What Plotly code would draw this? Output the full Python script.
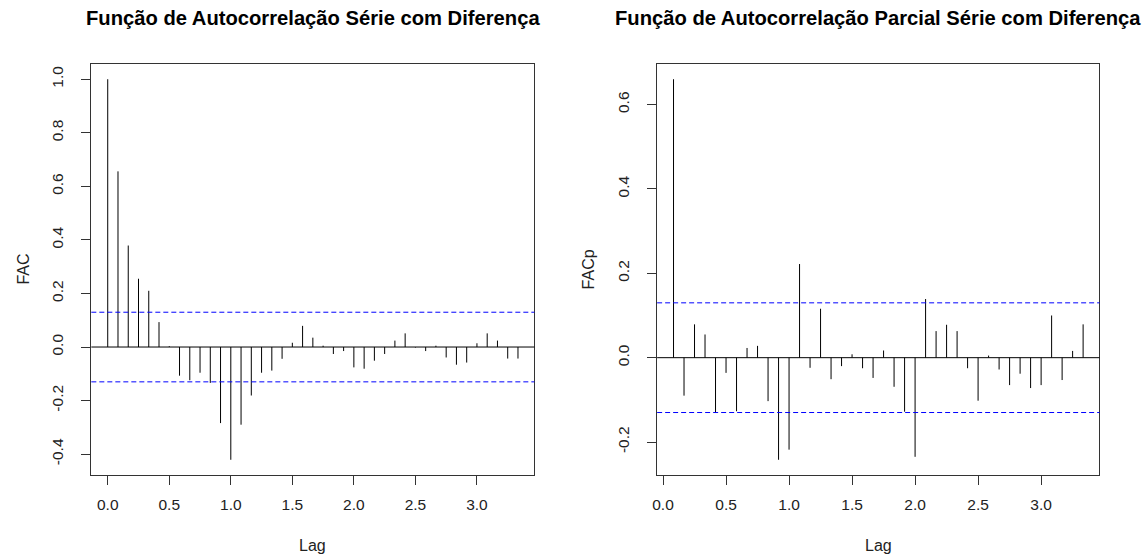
import plotly.graph_objects as go

# ---- data ----
acf_lags = [k / 12 for k in range(0, 41)]
acf_vals = [1.0, 0.656, 0.379, 0.255, 0.21, 0.093, 0.003, -0.107, -0.124, -0.096,
            -0.134, -0.284, -0.421, -0.29, -0.181, -0.096, -0.088, -0.044, 0.016, 0.079,
            0.035, 0.005, -0.026, -0.015, -0.076, -0.081, -0.051, -0.026, 0.024, 0.051,
            -0.002, -0.015, 0.005, -0.039, -0.066, -0.058, 0.014, 0.051, 0.024, -0.043,
            -0.043]
pacf_lags = [k / 12 for k in range(1, 41)]
pacf_vals = [0.660, -0.090, 0.079, 0.055, -0.131, -0.036, -0.127, 0.023, 0.028, -0.103,
             -0.242, -0.218, 0.222, -0.024, 0.116, -0.051, -0.020, 0.008, -0.025, -0.048,
             0.017, -0.069, -0.128, -0.235, 0.139, 0.063, 0.078, 0.063, -0.025, -0.102,
             0.005, -0.028, -0.065, -0.038, -0.072, -0.065, 0.100, -0.053, 0.016, 0.079]
clim = 0.13
x_ticks = [0.0, 0.5, 1.0, 1.5, 2.0, 2.5, 3.0]
acf_yticks = [-0.4, -0.2, 0.0, 0.2, 0.4, 0.6, 0.8, 1.0]
pacf_yticks = [-0.2, 0.0, 0.2, 0.4, 0.6]
titles = ["Função de Autocorrelação Série com Diferença",
          "Função de Autocorrelação Parcial Série com Diferença"]
ylabels = ["FAC", "FACp"]
xlabel = "Lag"

FONT = "Liberation Sans, Arial, sans-serif"
AXC = "#333333"


def padded(lo, hi, f=0.04):
    d = (hi - lo) * f
    return [lo - d, hi + d]


def spikes(xs, ys):
    px, py = [], []
    for x, y in zip(xs, ys):
        px += [x, x, None]
        py += [0, y, None]
    return px, py


fig = go.Figure()
for i, (lags, vals) in enumerate([(acf_lags, acf_vals), (pacf_lags, pacf_vals)]):
    px, py = spikes(lags, vals)
    sfx = "" if i == 0 else "2"
    fig.add_trace(go.Scatter(x=px, y=py, mode="lines", line=dict(color="black", width=1),
                             xaxis="x" + sfx, yaxis="y" + sfx, showlegend=False,
                             hoverinfo="skip"))

xdom = [[86.7 / 1145, 531.7 / 1145], [655 / 1145, 1099.3 / 1145]]
ydom = [1 - 475 / 555, 1 - 64 / 555]

axis_common = dict(showline=True, mirror=True, linecolor=AXC, linewidth=1,
                   ticks="outside", ticklen=9, tickcolor=AXC, tickwidth=1,
                   showgrid=False, zeroline=False,
                   tickfont=dict(family=FONT, size=15.5, color="#222222"))

shapes = []
annotations = []
for i, (lags, vals, yt) in enumerate([(acf_lags, acf_vals, acf_yticks),
                                      (pacf_lags, pacf_vals, pacf_yticks)]):
    sfx = "" if i == 0 else "2"
    xr = padded(min(lags), max(lags))
    yr = padded(min(min(vals), -clim), max(max(vals), clim))
    fig.update_layout(**{
        "xaxis" + sfx: dict(axis_common, domain=xdom[i], range=xr, tickvals=x_ticks,
                            ticktext=[f"{v:.1f}" for v in x_ticks],
                            ticklabelstandoff=6, anchor="y" + sfx),
        "yaxis" + sfx: dict(axis_common, domain=ydom, range=yr, tickvals=yt,
                            ticktext=[f"{v:.1f}" for v in yt], tickangle=-90,
                            ticklabelstandoff=12, anchor="x" + sfx),
    })
    xref = "x" + sfx + " domain"
    yref = "y" + sfx
    for c in (clim, -clim):
        shapes.append(dict(type="line", xref=xref, yref=yref, x0=0, x1=1, y0=c, y1=c,
                           line=dict(color="blue", width=1, dash="5px,3px")))
    shapes.append(dict(type="line", xref=xref, yref=yref, x0=0, x1=1, y0=0, y1=0,
                       line=dict(color="black", width=1)))
    cx = (xdom[i][0] + xdom[i][1]) / 2
    annotations.append(dict(text="<b>" + titles[i] + "</b>", xref="paper", yref="paper",
                            x=cx, y=1 - 18.5 / 555, xanchor="center", yanchor="middle",
                            showarrow=False,
                            font=dict(family=FONT, size=20.2, color="black")))
    annotations.append(dict(text=xlabel, xref="paper", yref="paper",
                            x=cx, y=1 - 545 / 555, xanchor="center", yanchor="middle",
                            showarrow=False,
                            font=dict(family=FONT, size=16, color="#222222")))
    annotations.append(dict(text=ylabels[i], xref="paper", yref="paper",
                            x=(xdom[i][0] * 1145 - 68) / 1145, y=1 - 269 / 555,
                            xanchor="center", yanchor="middle", textangle=-90,
                            showarrow=False,
                            font=dict(family=FONT, size=16, color="#222222")))

fig.update_layout(width=1145, height=555, margin=dict(l=0, r=0, t=0, b=0),
                  paper_bgcolor="white", plot_bgcolor="white",
                  shapes=shapes, annotations=annotations, font=dict(family=FONT))

fig.write_html("out.html")
